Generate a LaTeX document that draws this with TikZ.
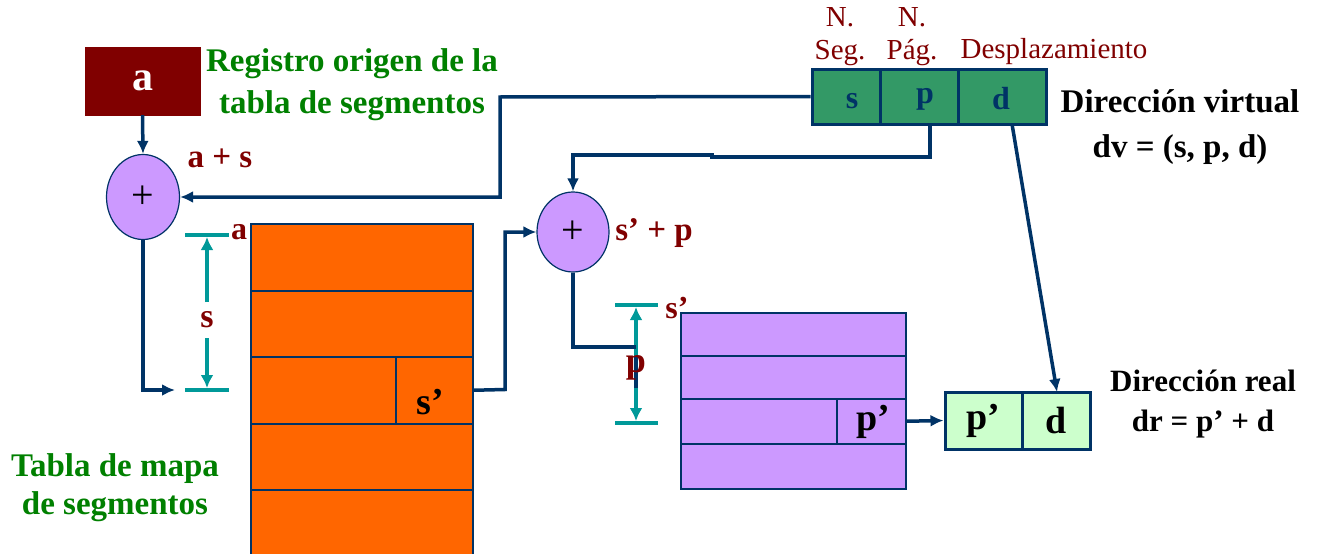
\documentclass[tikz,border=0pt]{standalone}
\usepackage{fontspec}
\setmainfont{Liberation Serif}
\usetikzlibrary{arrows.meta,shapes.geometric}
\definecolor{dblue}{HTML}{003366}
\definecolor{dteal}{HTML}{009999}
\definecolor{dred}{HTML}{800000}
\definecolor{dgreen}{HTML}{008000}
\definecolor{orng}{HTML}{FF6600}
\definecolor{lilac}{HTML}{CC99FF}
\definecolor{vgreen}{HTML}{339966}
\definecolor{lgreen}{HTML}{CCFFCC}
\tikzset{
  fs/.style={font=\fontsize{#1}{#1}\selectfont},
  bfs/.style={font=\fontsize{#1}{#1}\selectfont\bfseries},
  box/.style={draw=dblue, line width=1.5pt, inner sep=0pt, anchor=north west},
  vcell/.style={draw=dblue, line width=3pt, fill=vgreen, inner sep=0pt, minimum height=55pt},
  vlab/.style={text=dblue, bfs=32},
  rcell/.style={draw=dblue, line width=3pt, fill=lgreen, inner sep=0pt, minimum height=57pt, text=black, bfs=38},
  adder/.style={ellipse, draw=dblue, line width=1.2pt, fill=lilac, inner sep=0pt, fs=40},
  conn/.style={draw=dblue, line width=3.5pt, -{Latex[length=13pt,width=12pt]}},
  plain/.style={draw=dblue, line width=3.5pt},
  tick/.style={draw=dteal, line width=4pt},
  dimarr/.style={draw=dteal, line width=4pt, -{Latex[length=13pt,width=13pt]}},
}
\begin{document}
\begin{tikzpicture}[x=1pt,y=-1pt]
\useasboundingbox (0,0) rectangle (1320,554);
% register a
\node[draw=dred, fill=dred, inner sep=0pt, minimum width=115pt, minimum height=68pt, text=white, bfs=42] (reg) at (142.5,81) {a};
\node[text=dgreen, align=center, font=\fontsize{33}{42}\selectfont\bfseries] (regtxt) at (352,85) {Registro origen de la\\tabla de segmentos};
% adder 1
\node[adder, minimum width=73pt, minimum height=85pt] (add1) at (143,197) {+};
\node[text=dred, bfs=33] (aps) at (220,158) {a + s};
% virtual address
\node[vcell, minimum width=68pt] (vs) at (846,96.5) {};
\node[vcell, minimum width=78pt] (vp) at (919,96.5) {};
\node[vcell, minimum width=88pt] (vd) at (1002,96.5) {};
\node[vlab] (vsl) at (852,101) {s};
\node[vlab] (vpl) at (925,99) {p};
\node[vlab] (vdl) at (1001,99) {d};
\coordinate (vpout) at (930,124);
\coordinate (vdout) at (1012,124);
\node[text=dred, align=center, font=\fontsize{29}{33}\selectfont] (nseg) at (840,37) {N.\\Seg.};
\node[text=dred, align=center, font=\fontsize{29}{33}\selectfont] (npag) at (912,37) {N.\\Pág.};
\node[text=dred, fs=29] (desp) at (1054,52) {Desplazamiento};
\node[align=center, font=\fontsize{33}{45}\selectfont\bfseries] (dvtxt) at (1180,127) {Dirección virtual\\dv = (s, p, d)};
% segment table
\node[box, fill=orng, minimum width=222pt, minimum height=340pt] (seg) at (250,223) {};
\node[box, minimum width=222pt, minimum height=67pt] (seg1) at (250,223) {};
\node[box, minimum width=222pt, minimum height=66pt] (seg2) at (250,290) {};
\node[box, minimum width=145pt, minimum height=67pt] (seg3) at (250,356) {};
\node[box, minimum width=77pt, minimum height=67pt] (sp) at (395,356) {};
\node[bfs=38] (splab) at (430,402) {s’};
\node[box, minimum width=222pt, minimum height=66pt] (seg4) at (250,423) {};
\node[box, minimum width=222pt, minimum height=80pt] (seg5) at (250,489) {};
\node[text=dred, bfs=32] (alab) at (239,232) {a};
% s dimension
\coordinate (st1) at (185,235); \coordinate (st2) at (229,235);
\coordinate (sb1) at (185,390); \coordinate (sb2) at (229,390);
\draw[tick] (st1) -- (st2);
\draw[tick] (sb1) -- (sb2);
\node[text=dred, bfs=34, inner sep=1pt] (slab) at (207,320) {s};
\draw[dimarr] (207,302) -- (207,237);
\draw[dimarr] (207,338) -- (207,388);
% adder 2
\node[adder, minimum width=72pt, minimum height=80pt] (add2) at (573,232) {+};
\node[text=dred, bfs=33] (spp) at (654,233) {s’ + p};
% page table
\node[box, fill=lilac, minimum width=225pt, minimum height=176pt] (pag) at (680,312) {};
\node[box, minimum width=225pt, minimum height=43pt] (pag1) at (680,312) {};
\node[box, minimum width=225pt, minimum height=43pt] (pag2) at (680,355) {};
\node[box, minimum width=156pt, minimum height=45pt] (pag3) at (680,398) {};
\node[box, minimum width=69pt, minimum height=45pt] (pp) at (836,398) {};
\node[box, minimum width=225pt, minimum height=45pt] (pag4) at (680,443) {};
\node[bfs=38] (pplab) at (873,422) {p’};
\node[text=dred, bfs=32] (splab2) at (677,308) {s’};
% p dimension
\coordinate (pt1) at (615,305); \coordinate (pt2) at (658,305);
\coordinate (pb1) at (615,423); \coordinate (pb2) at (658,423);
\draw[tick] (pt1) -- (pt2);
\draw[tick] (pb1) -- (pb2);
\draw[dimarr] (636,380) -- (636,307);
\draw[dimarr] (636,360) -- (636,421);
\coordinate (pj) at (636,347);
\draw[plain] (add2.south) |- (pj);
\draw[plain] (636,357) -- (636,388);
\node[text=dred, bfs=36] (plab) at (636,368) {p};
% real address
\node[rcell, minimum width=77pt] (rp) at (983.5,420.5) {p’};
\node[rcell, minimum width=68pt] (rd) at (1056,420.5) {d};
\node[align=center, font=\fontsize{31}{40}\selectfont\bfseries] (drtxt) at (1203,404) {Dirección real\\dr = p’ + d};
\node[text=dgreen, align=center, font=\fontsize{33}{38}\selectfont\bfseries] (tabtxt) at (115,488) {Tabla de mapa\\de segmentos};
% connectors
\draw[conn] (reg.south) -- (add1.north);
\draw[conn] (vs.west) -- (500,97) |- (add1.east);
\draw[conn] (add1.south) |- (175,390);
\draw[conn] (sp.east) -- (505,389.5) |- (add2.west);
\draw[conn] (vpout) -- (930,157) -- (712,157) -- (712,155) -| (add2.north);
\draw[conn] (pp.east) -- (rp.west);
\draw[conn] (vdout) -- (1057,392);
\end{tikzpicture}
\end{document}
